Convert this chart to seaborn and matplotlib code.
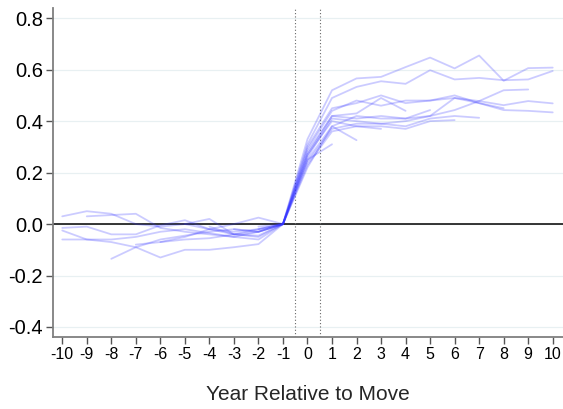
import matplotlib
matplotlib.use("Agg")
import matplotlib.pyplot as plt
import seaborn as sns
import pandas as pd
import numpy as np

# start year of each series (values are consecutive years from start)
starts = [-10, -9, -10, -10, -10, -8, -6, -7, -5, -4, -3, -2, -2]

line01 = [0.03, 0.05, 0.04, 0.0, -0.01, 0.0, -0.02, -0.03, -0.02, 0.0,
          0.33, 0.52, 0.566, 0.572, 0.61, 0.647, 0.605, 0.655, 0.557, 0.606, 0.608]
line02 = [0.03, 0.035, 0.04, -0.015, -0.03, -0.04, -0.05, -0.03, 0.0,
          0.31, 0.49, 0.533, 0.555, 0.545, 0.598, 0.562, 0.568, 0.559, 0.562, 0.595]
line03 = [-0.015, -0.01, -0.04, -0.04, -0.005, 0.015, -0.02, -0.04, -0.03, 0.0,
          0.30, 0.45, 0.47, 0.50, 0.47, 0.48, 0.50, 0.47, 0.45]
line04 = [-0.06, -0.06, -0.06, -0.05, -0.03, -0.02, -0.035, -0.05, -0.06, 0.0,
          0.29, 0.44, 0.48, 0.46, 0.48, 0.48, 0.49, 0.47, 0.443, 0.44, 0.434]
line05 = [-0.025, -0.06, -0.07, -0.09, -0.13, -0.10, -0.10, -0.09, -0.078, 0.0,
          0.28, 0.42, 0.43, 0.49, 0.44]
line06 = [-0.135, -0.09, -0.06, -0.045, -0.03, -0.02, -0.03, 0.0,
          0.27, 0.42, 0.41, 0.42, 0.41, 0.42, 0.443, 0.478, 0.52, 0.523]
line07 = [-0.07, -0.05, -0.02, 0.0, 0.025, 0.0,
          0.26, 0.41, 0.40, 0.39, 0.40, 0.42, 0.49, 0.478, 0.462, 0.478, 0.469]
line08 = [-0.08, -0.07, -0.06, -0.055, -0.04, -0.05, 0.0,
          0.25, 0.38, 0.42, 0.41, 0.41, 0.443]
line09 = [0.0, 0.02, -0.04, -0.02, 0.0,
          0.24, 0.37, 0.39, 0.39, 0.38, 0.41, 0.42, 0.413]
line10 = [-0.01, -0.04, -0.045, 0.0,
          0.23, 0.36, 0.38, 0.38, 0.37, 0.40, 0.404]
line11 = [-0.02, -0.03, 0.0,
          0.22, 0.38, 0.326]
line12 = [-0.01, 0.0,
          0.25, 0.31]
line13 = [-0.02, 0.0,
          0.27, 0.40, 0.38, 0.37]

all_lines = [line01, line02, line03, line04, line05, line06, line07,
             line08, line09, line10, line11, line12, line13]

xticks = list(range(-10, 11))
yticks = [-0.4, -0.2, 0.0, 0.2, 0.4, 0.6, 0.8]
ytick_labels = ["-0.4", "-0.2", "0.0", "0.2", "0.4", "0.6", "0.8"]
xlabel = "Year Relative to Move"

rows = []
for i, (s, vals) in enumerate(zip(starts, all_lines)):
    for k, v in enumerate(vals):
        rows.append({"series": i, "year": s + k, "value": v})
df = pd.DataFrame(rows)

sns.set_style("white")
plt.rcParams["font.family"] = ["Liberation Sans", "DejaVu Sans"]
plt.rcParams["axes.unicode_minus"] = False

fig = plt.figure(figsize=(5.63, 4.09), dpi=100)
ax = fig.add_axes([0.0936, 0.176, 0.9064, 0.804])

for y in yticks:
    ax.axhline(y, color="#e8f0f2", lw=0.9, zorder=0)
ax.axhline(0, color="black", lw=1.1, zorder=1)
for xv in (-0.5, 0.5):
    ax.axvline(xv, color="#666666", lw=0.8, ls=(0, (1, 2)), zorder=1)

sns.lineplot(data=df, x="year", y="value", units="series", estimator=None,
             color="#3333ff", alpha=0.25, lw=1.3, ax=ax, zorder=2)

ax.set_xlim(-10.39, 10.42)
ax.set_ylim(-0.439, 0.839)
ax.set_xticks(xticks)
ax.set_xticklabels([str(t) for t in xticks], fontsize=11.5)
ax.set_yticks(yticks)
ax.set_yticklabels(ytick_labels, fontsize=14.5)
ax.set_xlabel(xlabel, fontsize=15, labelpad=17)
ax.set_ylabel("")

for side in ("top", "right"):
    ax.spines[side].set_visible(False)
for side in ("left", "bottom"):
    ax.spines[side].set_color("#7f7f7f")
    ax.spines[side].set_linewidth(1.3)
ax.tick_params(axis="both", which="major", direction="out", length=5,
               width=1.0, color="#555555", labelcolor="black", pad=2,
               left=True, bottom=True)

fig.savefig("out.png", dpi=100)
